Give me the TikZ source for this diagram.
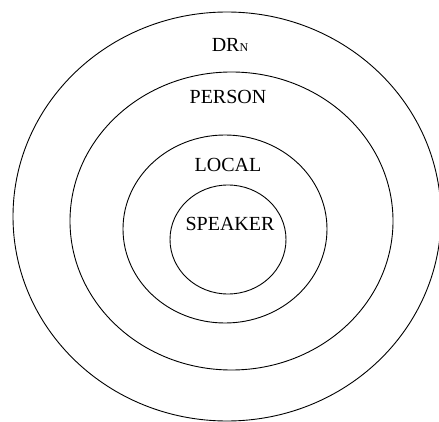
\documentclass[tikz,border=0pt]{standalone}
\usepackage{fontspec}
\setmainfont{Liberation Serif}
\usepackage{tikz}

\begin{document}
\begin{tikzpicture}[x=1pt,y=-1pt,
    ring/.style={draw,line width=0.9pt},
    lbl/.style={inner sep=0pt,font=\fontsize{20}{22}\selectfont}]
        \useasboundingbox (0,0) rectangle (439,422);
        % rings, outside in
        \draw[ring] (227,216.5) ellipse ({214} and {204.5});
        \draw[ring] (231.5,221) ellipse ({161.5} and {149});
        \draw[ring] (225,229) ellipse ({102} and {94});
        \draw[ring] (228,239.5) ellipse ({58} and {54.5});
        % labels
        \node[lbl] (drn) at (230,45) {DR{\fontsize{12}{12}\selectfont N}};
        \node[lbl] (person) at (228,97) {PERSON};
        \node[lbl] (local) at (228,165) {LOCAL};
        \node[lbl] (speaker) at (230,224) {SPEAKER};
      \end{tikzpicture}
\end{document}
